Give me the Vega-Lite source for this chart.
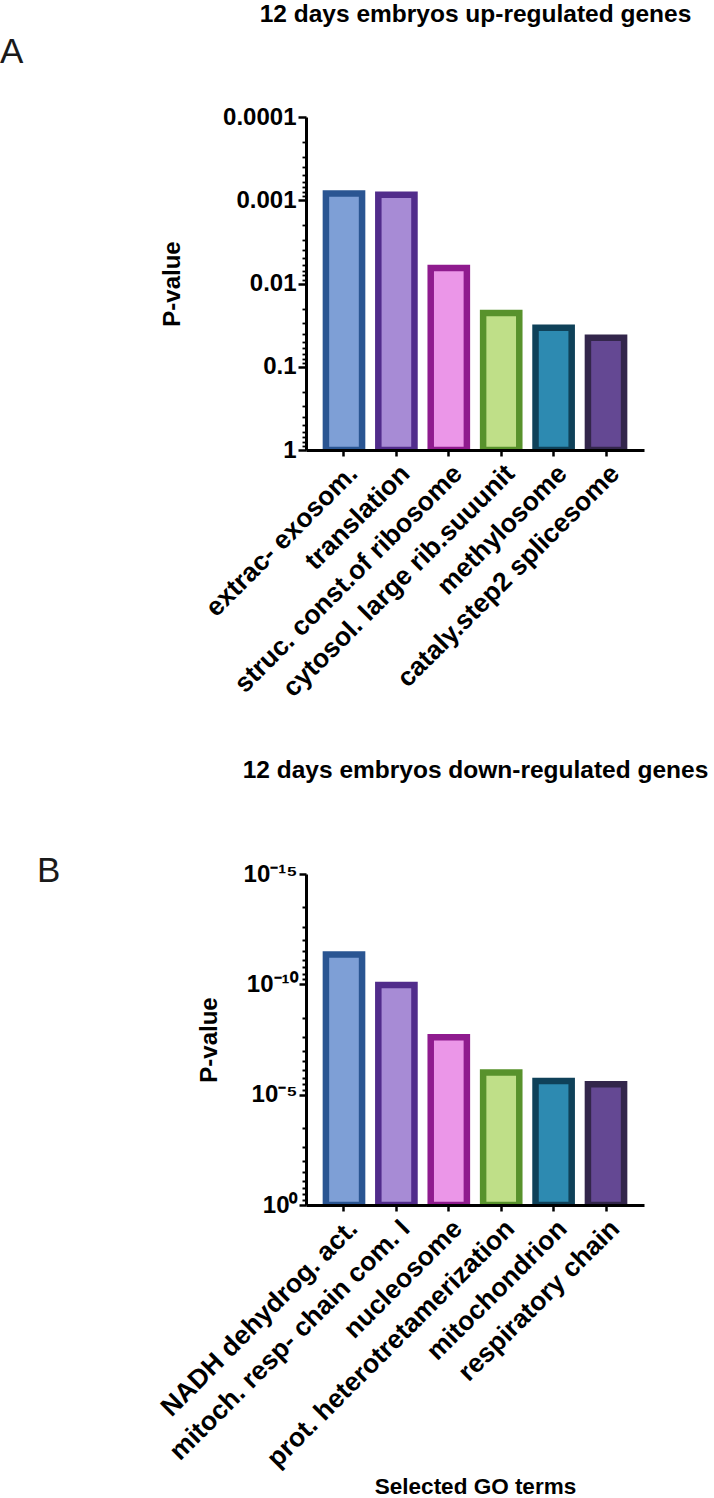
{
  "$schema": "https://vega.github.io/schema/vega-lite/v6.json",
  "background": "white",
  "padding": {"left": 0, "top": 1, "right": 5, "bottom": 0},
  "autosize": {"type": "pad"},
  "config": {
    "view": {"stroke": null},
    "font": "Liberation Sans",
    "axis": {"labelColor": "black", "titleColor": "black", "domainColor": "black", "tickColor": "black", "grid": false, "labelFont": "Liberation Sans", "titleFont": "Liberation Sans", "labelLimit": 0}
  },
  "datasets": {
    "up": [
      {"idx": 1, "term": "extrac- exosom.", "p": 0.00083},
      {"idx": 2, "term": "translation", "p": 0.00086},
      {"idx": 3, "term": "struc. const.of ribosome", "p": 0.0065},
      {"idx": 4, "term": "cytosol. large rib.suuunit", "p": 0.0226},
      {"idx": 5, "term": "methylosome", "p": 0.0339},
      {"idx": 6, "term": "cataly.step2 splicesome", "p": 0.0447}
    ],
    "down": [
      {"idx": 1, "term": "NADH dehydrog. act.", "p": 4.5e-12},
      {"idx": 2, "term": "mitoch. resp- chain com. I", "p": 1.07e-10},
      {"idx": 3, "term": "nucleosome", "p": 2.5e-8},
      {"idx": 4, "term": "prot. heterotretamerization", "p": 9.8e-7},
      {"idx": 5, "term": "mitochondrion", "p": 2.4e-6},
      {"idx": 6, "term": "respiratory chain", "p": 3.4e-6}
    ]
  },
  "bounds": "flush",
  "spacing": 424,
  "vconcat": [
    {
      "width": 338,
      "height": 333,
      "data": {"name": "up"},
      "title": {"text": "A", "orient": "top", "anchor": "start", "frame": "group", "dx": -306, "offset": -69, "baseline": "top", "align": "left", "fontSize": 35, "fontWeight": "normal", "font": "Liberation Sans", "color": "#1a1a1a"},
      "layer": [
        {
          "mark": {"type": "bar", "strokeWidth": 6.5, "clip": true},
          "encoding": {
            "x": {"field": "term", "type": "nominal", "sort": null,
              "scale": {"paddingInner": 0.31, "paddingOuter": 0.38},
              "axis": {"orient": "bottom", "title": null, "labelAngle": -45, "labelFontSize": 26.5, "labelFontWeight": "bold", "labelLimit": 0, "tickSize": 6, "tickWidth": 2.5, "domainWidth": 3, "labelPadding": 4, "zindex": 1}},
            "y": {"field": "p", "type": "quantitative",
              "scale": {"type": "log", "domain": [0.0001, 1], "reverse": true},
              "axis": {
                "title": "P-value", "titleFontSize": 24, "titleFontWeight": "bold", "titlePadding": 38,
                "values": [0.0001, 0.0002, 0.0003, 0.0004, 0.0005, 0.0006, 0.0007, 0.0008, 0.0009, 0.001, 0.002, 0.003, 0.004, 0.005, 0.006, 0.007, 0.008, 0.009, 0.01, 0.02, 0.03, 0.04, 0.05, 0.06, 0.07, 0.08, 0.09, 0.1, 0.2, 0.3, 0.4, 0.5, 0.6, 0.7, 0.8, 0.9, 1],
                "labelExpr": "abs(log(datum.value)/LN10 - round(log(datum.value)/LN10)) < 1e-6 ? format(datum.value, '~g') : ''",
                "labelOverlap": false,
                "tickSize": {"condition": {"test": "abs(log(datum.value)/LN10 - round(log(datum.value)/LN10)) < 1e-6", "value": 8}, "value": 4},
                "tickWidth": {"condition": {"test": "abs(log(datum.value)/LN10 - round(log(datum.value)/LN10)) < 1e-6", "value": 2.5}, "value": 1.8},
                "labelFontSize": 24, "labelFontWeight": "bold", "labelPadding": 2, "domainWidth": 3, "zindex": 1
              }},
            "y2": {"datum": 1},
            "fill": {"field": "idx", "type": "nominal", "legend": null,
              "scale": {"domain": [1, 2, 3, 4, 5, 6], "range": ["#7E9FD6", "#A78BD5", "#EB96E8", "#BFDF88", "#2D8AB1", "#644893"]}},
            "stroke": {"field": "idx", "type": "nominal", "legend": null,
              "scale": {"domain": [1, 2, 3, 4, 5, 6], "range": ["#2A5592", "#512C8B", "#8F1B8E", "#58922C", "#0F4159", "#33264B"]}}
          }
        },
        {
          "mark": {"type": "rule", "opacity": 0},
          "encoding": {
            "x": {"field": "term", "type": "nominal", "sort": null,
              "axis": {"orient": "top", "title": "12 days embryos up-regulated genes", "labels": false, "ticks": false, "domain": false, "titlePadding": 91, "titleFontSize": 24.5, "titleFontWeight": "bold"}}
          }
        }
      ],
      "resolve": {"axis": {"x": "independent"}}
    },
    {
      "width": 338,
      "height": 331,
      "data": {"name": "down"},
      "title": {"text": "B", "orient": "top", "anchor": "start", "frame": "group", "dx": -269, "offset": -132, "baseline": "top", "align": "left", "fontSize": 35, "fontWeight": "normal", "font": "Liberation Sans", "color": "#1a1a1a"},
      "layer": [
        {
          "mark": {"type": "bar", "strokeWidth": 6.5, "clip": true},
          "encoding": {
            "x": {"field": "term", "type": "nominal", "sort": null,
              "scale": {"paddingInner": 0.31, "paddingOuter": 0.38},
              "axis": {"orient": "bottom", "title": "Selected GO terms", "titleFontSize": 22.5, "titleFontWeight": "bold", "titlePadding": 70, "labelAngle": -45, "labelFontSize": 26.5, "labelFontWeight": "bold", "labelLimit": 0, "tickSize": 6, "tickWidth": 2.5, "domainWidth": 3, "labelPadding": 4, "zindex": 1}},
            "y": {"field": "p", "type": "quantitative",
              "scale": {"type": "log", "domain": [1e-15, 1], "reverse": true},
              "axis": {
                "title": "P-value", "titleFontSize": 24, "titleFontWeight": "bold", "titlePadding": 22,
                "values": [1e-15, 3.2e-14, 2.43e-13, 1.024e-12, 3.125e-12, 7.776e-12, 1.6807e-11, 3.2768e-11, 5.9049e-11, 1e-10, 3.2e-9, 2.43e-8, 1.024e-7, 3.125e-7, 7.776e-7, 1.6807e-6, 3.2768e-6, 5.9049e-6, 1e-5, 0.00032, 0.00243, 0.01024, 0.03125, 0.07776, 0.16807, 0.32768, 0.59049, 1],
                "labelExpr": "abs(log(datum.value)/LN10 + 15) < 1e-6 ? '10⁻¹⁵' : abs(log(datum.value)/LN10 + 10) < 1e-6 ? '10⁻¹⁰' : abs(log(datum.value)/LN10 + 5) < 1e-6 ? '10⁻⁵' : abs(log(datum.value)/LN10) < 1e-6 ? '10⁰' : ''",
                "labelOverlap": false,
                "tickSize": {"condition": {"test": "abs(log(datum.value)/LN10/5 - round(log(datum.value)/LN10/5)) < 1e-6", "value": 7}, "value": 4},
                "tickWidth": {"condition": {"test": "abs(log(datum.value)/LN10/5 - round(log(datum.value)/LN10/5)) < 1e-6", "value": 2.5}, "value": 2},
                "labelFontSize": 24, "labelFontWeight": "bold", "labelPadding": 2, "domainWidth": 3, "zindex": 1
              }},
            "y2": {"datum": 1},
            "fill": {"field": "idx", "type": "nominal", "legend": null,
              "scale": {"domain": [1, 2, 3, 4, 5, 6], "range": ["#7E9FD6", "#A78BD5", "#EB96E8", "#BFDF88", "#2D8AB1", "#644893"]}},
            "stroke": {"field": "idx", "type": "nominal", "legend": null,
              "scale": {"domain": [1, 2, 3, 4, 5, 6], "range": ["#2A5592", "#512C8B", "#8F1B8E", "#58922C", "#0F4159", "#33264B"]}}
          }
        },
        {
          "mark": {"type": "rule", "opacity": 0},
          "encoding": {
            "x": {"field": "term", "type": "nominal", "sort": null,
              "axis": {"orient": "top", "title": "12 days embryos down-regulated genes", "labels": false, "ticks": false, "domain": false, "titlePadding": 92, "titleFontSize": 24.5, "titleFontWeight": "bold"}}
          }
        }
      ],
      "resolve": {"axis": {"x": "independent"}}
    }
  ]
}
